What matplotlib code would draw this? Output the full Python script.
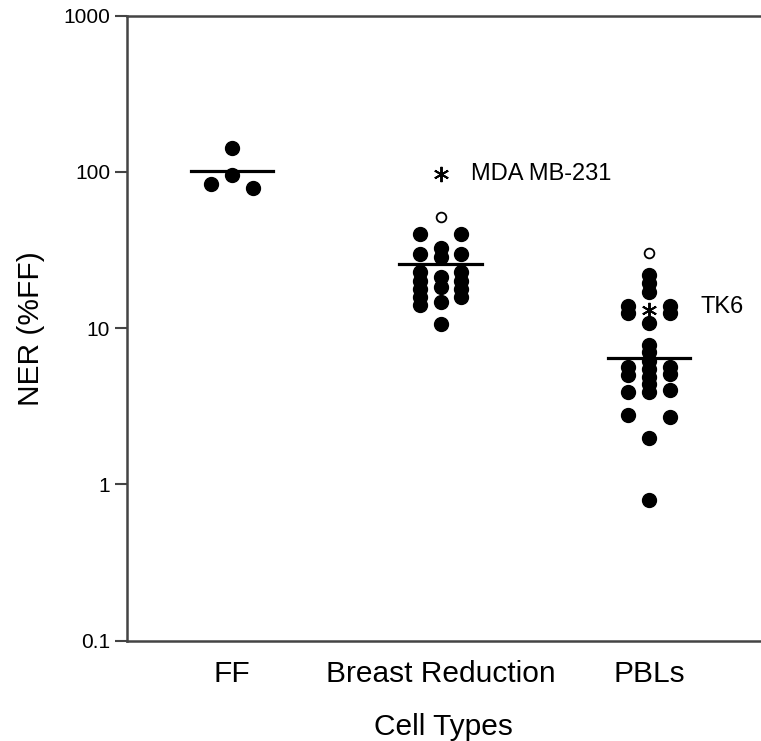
import matplotlib
matplotlib.use('Agg')
import matplotlib.pyplot as plt

plt.rcParams['font.family'] = ['Liberation Sans', 'DejaVu Sans']

categories = ['FF', 'Breast Reduction', 'PBLs']
yticks = [0.1, 1, 10, 100, 1000]
ytick_labels = ['0.1', '1', '10', '100', '1000']

# NER values (%FF), split by the column the dot sits in
ff_left = [84]
ff_center = [142, 96]
ff_right = [79]
ff_mean = 101

br_left = [40.1, 29.8, 22.9, 20.0, 17.8, 15.8, 14.0]
br_center = [32.4, 28.7, 21.3, 18.4, 14.7, 10.7]
br_right = [40.1, 29.8, 22.9, 20.0, 17.8, 15.8]
br_open = [51.6]
br_star = [97]
br_mean = 25.6

pb_left = [13.8, 12.5, 5.65, 5.05, 3.9, 2.77]
pb_center = [21.9, 19.4, 17.0, 10.8, 7.8, 7.0, 6.2, 5.5, 4.9, 4.4, 3.9, 1.97, 0.79]
pb_right = [13.8, 12.5, 5.65, 5.1, 4.0, 2.7]
pb_open = [30.3]
pb_star = [13.0]
pb_mean = 6.4

star_labels = ['MDA MB-231', 'TK6']

groups = [
    (ff_left, ff_center, ff_right, [], [], ff_mean),
    (br_left, br_center, br_right, br_open, br_star, br_mean),
    (pb_left, pb_center, pb_right, pb_open, pb_star, pb_mean),
]

fig = plt.figure(figsize=(7.61, 7.41), dpi=100)
ax = fig.add_axes([0.1665, 0.1354, 0.8335, 0.8434])

off = 0.1
dot = dict(marker='o', ms=10, color='black', ls='none')
for i, (left, center, right, opn, star, mean) in enumerate(groups):
    x = i + 1
    ax.plot([x - off] * len(left), left, **dot)
    ax.plot([x] * len(center), center, **dot)
    ax.plot([x + off] * len(right), right, **dot)
    if opn:
        ax.plot([x] * len(opn), opn, marker='o', ms=7, mfc='white',
                mec='black', mew=1.3, ls='none')
    if star:
        ax.plot([x] * len(star), star, marker=(6, 2, 0), ms=11,
                color='black', mew=1.4, ls='none')
    ax.plot([x - 0.197, x + 0.197], [mean, mean], color='black', lw=2.3)

ax.text(2.146, br_star[0], star_labels[0], fontsize=17, va='center', ha='left')
ax.text(3.245, pb_star[0] * 1.05, star_labels[1], fontsize=17, va='center', ha='left')

ax.set_yscale('log')
ax.set_ylim(0.1, 1000)
ax.set_xlim(0.495, 3.537)
ax.set_yticks(yticks)
ax.set_yticklabels(ytick_labels)
ax.minorticks_off()
ax.set_xticks([1, 2, 3])
ax.set_xticklabels(categories)

ax.tick_params(axis='y', length=9, width=1.5, color='#444444', labelsize=15, pad=3)
ax.tick_params(axis='x', length=0, labelsize=21.5, pad=14)

for s in ['left', 'top', 'bottom']:
    ax.spines[s].set_linewidth(1.8)
    ax.spines[s].set_color('#444444')
ax.spines['right'].set_visible(False)

ax.set_xlabel('Cell Types', fontsize=21.5, labelpad=18)
ax.set_ylabel('NER (%FF)', fontsize=21.5, labelpad=13)

fig.savefig('out.png', dpi=100)
